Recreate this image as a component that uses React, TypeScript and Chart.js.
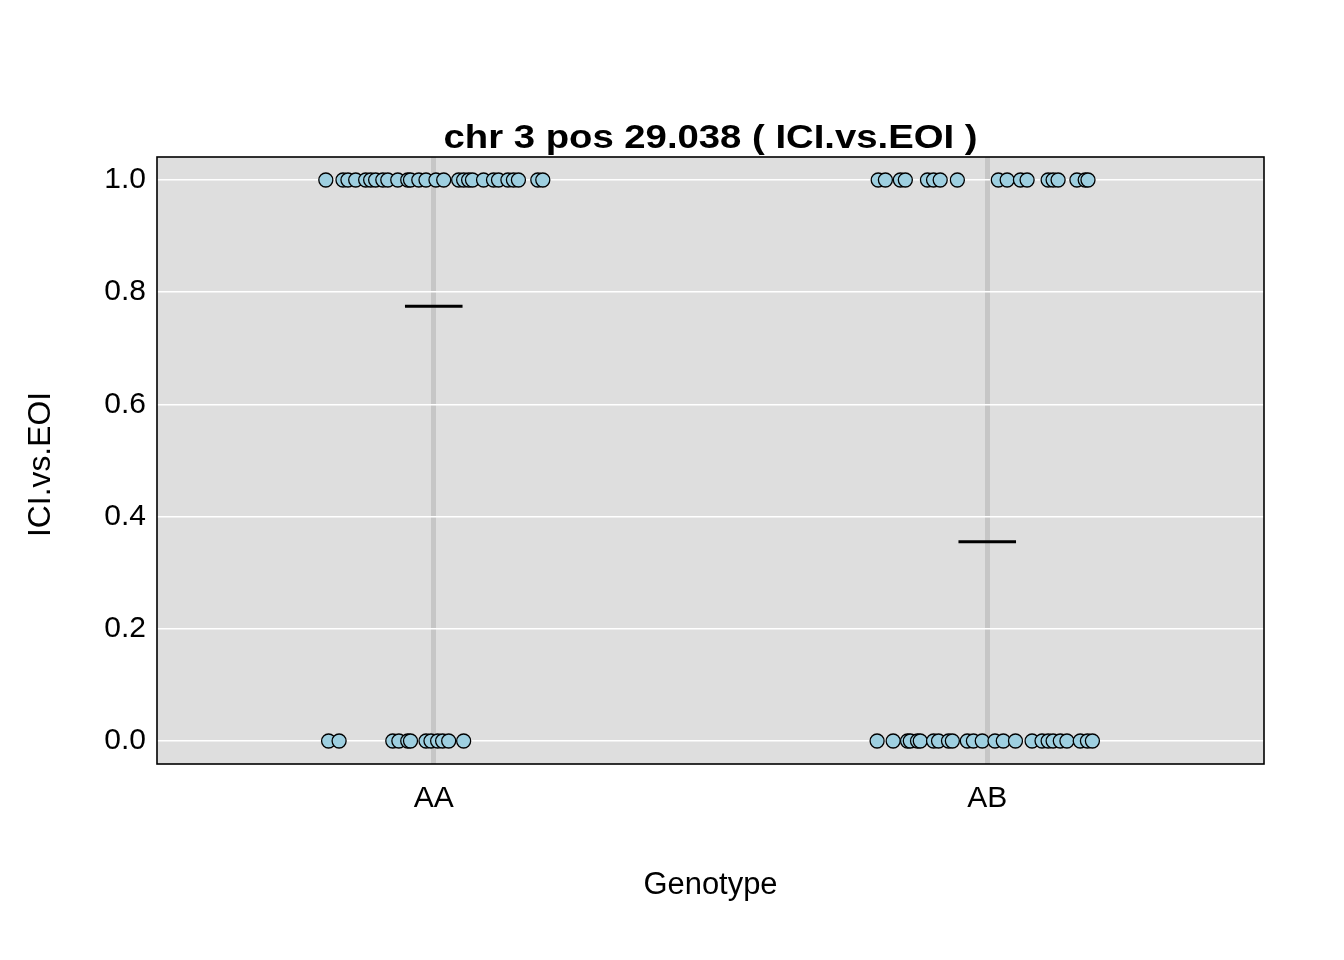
import React, { useEffect, useRef } from "react";
import { Chart, registerables } from "chart.js";

Chart.register(...registerables);

const categories = ["AA", "AB"];
const yTickValues = [0, 0.2, 0.4, 0.6, 0.8, 1.0];
const titleText = "chr 3 pos 29.038 ( ICI.vs.EOI )";
const xTitle = "Genotype";
const yTitle = "ICI.vs.EOI";

// jittered horizontal offsets of observations (category units)
const aaOnesJitter = [-0.195, -0.164, -0.155, -0.141, -0.123, -0.114, -0.105, -0.092, -0.083, -0.065, -0.047, -0.042, -0.027, -0.014, 0.004, 0.018, 0.045, 0.054, 0.063, 0.07, 0.09, 0.108, 0.117, 0.134, 0.144, 0.153, 0.188, 0.197];
const aaZerosJitter = [-0.19, -0.171, -0.074, -0.063, -0.047, -0.042, -0.014, -0.005, 0.007, 0.016, 0.027, 0.054];
const abOnesJitter = [-0.197, -0.184, -0.157, -0.148, -0.108, -0.097, -0.085, -0.054, 0.02, 0.036, 0.06, 0.072, 0.11, 0.119, 0.128, 0.162, 0.177, 0.182];
const abZerosJitter = [-0.199, -0.17, -0.144, -0.139, -0.126, -0.121, -0.097, -0.088, -0.07, -0.063, -0.036, -0.025, -0.009, 0.014, 0.029, 0.051, 0.081, 0.099, 0.11, 0.119, 0.132, 0.144, 0.168, 0.181, 0.19];
const groupMeans = [0.775, 0.355];
const meanHalfWidth = 0.052;

const FONT = "'Liberation Sans', Arial, Helvetica, sans-serif";

function fitText(ctx: CanvasRenderingContext2D, text: string, x: number, y: number, targetW: number) {
  const w = ctx.measureText(text).width;
  ctx.save();
  ctx.translate(x, y);
  ctx.scale(targetW / w, 1);
  ctx.fillText(text, 0, 0);
  ctx.restore();
}

export default function App() {
  const ref = useRef<HTMLCanvasElement | null>(null);

  useEffect(() => {
    if (!ref.current) return;
    const points: { x: number; y: number }[] = [];
    const add = (cat: number, val: number, arr: number[]) =>
      arr.forEach((j) => points.push({ x: cat + j, y: val }));
    add(1, 1, aaOnesJitter);
    add(1, 0, aaZerosJitter);
    add(2, 1, abOnesJitter);
    add(2, 0, abZerosJitter);

    const meanSeg: { x: number; y: number | null }[] = [];
    groupMeans.forEach((m, i) => {
      const c = i + 1;
      meanSeg.push({ x: c - meanHalfWidth, y: m });
      meanSeg.push({ x: c + meanHalfWidth, y: m });
      meanSeg.push({ x: c + 0.5, y: null });
    });

    const deco = {
      id: "deco",
      beforeDraw(chart: any) {
        const { ctx, chartArea: a } = chart;
        ctx.save();
        ctx.fillStyle = "#dedede";
        ctx.fillRect(a.left, a.top, a.right - a.left, a.bottom - a.top);
        ctx.restore();
      },
      afterDraw(chart: any) {
        const { ctx, chartArea: a } = chart;
        ctx.save();
        ctx.strokeStyle = "#000";
        ctx.lineWidth = 1.6;
        ctx.strokeRect(a.left, a.top, a.right - a.left, a.bottom - a.top);
        const cx = (a.left + a.right) / 2;
        ctx.fillStyle = "#000";
        ctx.textAlign = "center";
        ctx.textBaseline = "alphabetic";
        ctx.font = `bold 33px ${FONT}`;
        fitText(ctx, titleText, cx, 148, 534);
        ctx.font = `31px ${FONT}`;
        fitText(ctx, xTitle, cx, 894, 134);
        ctx.translate(50, (a.top + a.bottom) / 2 + 4);
        ctx.rotate(-Math.PI / 2);
        fitText(ctx, yTitle, 0, 0, 145);
        ctx.restore();
      },
    };

    const chart = new Chart(ref.current, {
      type: "scatter",
      data: {
        datasets: [
          {
            data: meanSeg,
            showLine: true,
            spanGaps: false,
            borderColor: "#000",
            borderWidth: 3,
            pointRadius: 0,
          } as any,
          {
            data: points,
            backgroundColor: "#9ecfe0",
            borderColor: "#000",
            borderWidth: 1.3,
            pointRadius: 7,
          },
        ],
      },
      options: {
        responsive: false,
        animation: false,
        layout: { padding: { top: 157, right: 80, bottom: 0, left: 0 } },
        plugins: { legend: { display: false }, tooltip: { enabled: false }, title: { display: false } },
        scales: {
          x: {
            type: "linear",
            min: 0.5,
            max: 2.5,
            afterBuildTicks: (s: any) => {
              s.ticks = categories.map((_, i) => ({ value: i + 1 }));
            },
            afterFit: (s: any) => {
              s.height = 196;
            },
            ticks: {
              callback: (v: any) => categories[Math.round(v) - 1],
              font: { family: FONT, size: 30 },
              color: "#000",
              padding: 17,
            },
            grid: { color: "#c6c6c6", lineWidth: 5, drawTicks: false },
            border: { display: false },
          },
          y: {
            type: "linear",
            min: -0.041,
            max: 1.041,
            afterBuildTicks: (s: any) => {
              s.ticks = yTickValues.map((v) => ({ value: v }));
            },
            afterFit: (s: any) => {
              s.width = 157;
            },
            ticks: {
              callback: (v: any) => Number(v).toFixed(1),
              font: { family: FONT, size: 30 },
              color: "#000",
              padding: 11,
            },
            grid: { color: "#ffffff", lineWidth: 1.5, drawTicks: false },
            border: { display: false },
          },
        },
      },
      plugins: [deco],
    });
    return () => chart.destroy();
  }, []);

  return (
    <div style={{ position: "absolute", left: 0, top: 0, width: 1344, height: 960, background: "#fff" }}>
      <canvas ref={ref} width={1344} height={960} />
    </div>
  );
}
